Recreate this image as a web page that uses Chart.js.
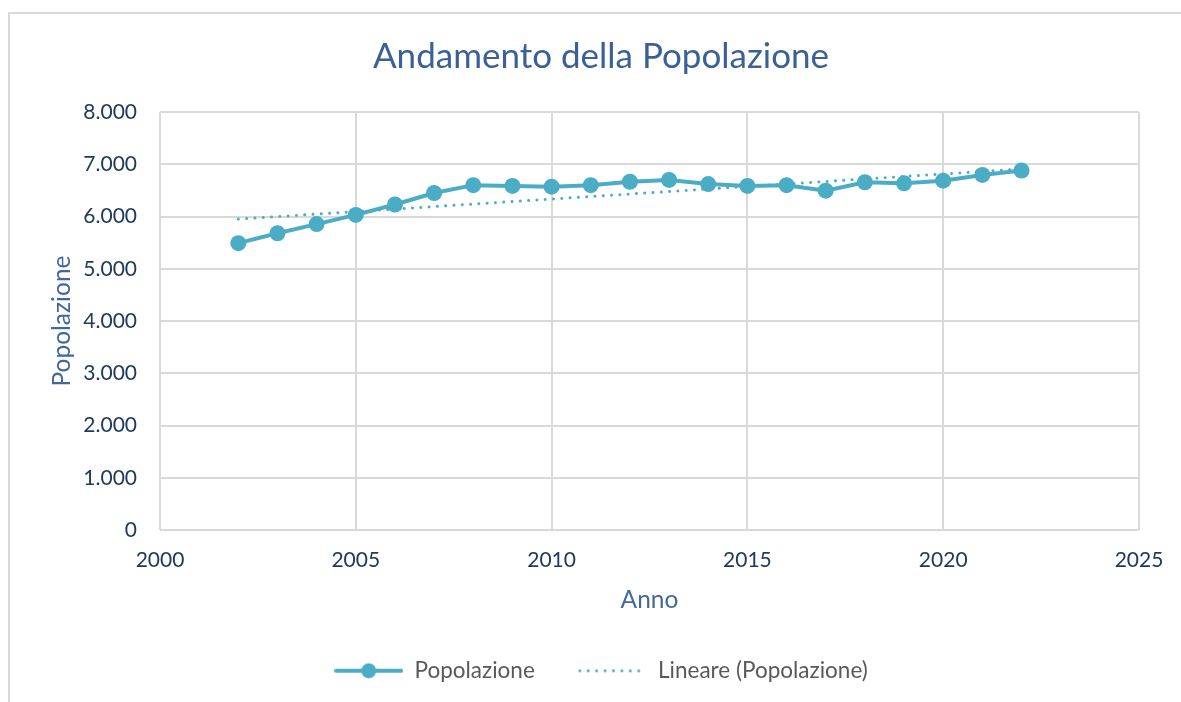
<!DOCTYPE html>
<html>
<head>
<meta charset="utf-8">
<script src="https://cdn.jsdelivr.net/npm/chart.js@4.4.1/dist/chart.umd.min.js"></script>
<style>
  body { margin: 0; background: #fff; overflow: hidden; width: 1181px; height: 702px; }
  #cornice { position: absolute; left: 8px; top: 12px; width: 1300px; height: 800px; border: 2px solid #d9d9d9; }
  #box { position: absolute; left: 8px; top: 13px; width: 1186px; height: 700px; }
</style>
</head>
<body>
<div id="cornice"></div>
<div id="box"><canvas id="graficoPopolazione"></canvas></div>
<script>
const anni = [2002, 2003, 2004, 2005, 2006, 2007, 2008, 2009, 2010, 2011, 2012,
              2013, 2014, 2015, 2016, 2017, 2018, 2019, 2020, 2021, 2022];
const popolazione = [5490, 5680, 5855, 6030, 6230, 6450, 6600, 6585, 6570, 6600, 6665,
                     6700, 6620, 6585, 6600, 6495, 6655, 6635, 6685, 6795, 6880];
// estremi della linea di tendenza
const anniTendenza = [2002, 2022];
const valoriTendenza = [5950, 6910];

const colore = '#4bacc6';
const fontBase = 'Lato';

function formatoMigliaia(v) {
  return String(v).replace(/\B(?=(\d{3})+(?!\d))/g, '.');
}

// simboli della legenda
function simbolo(tipo) {
  const c = document.createElement('canvas');
  c.width = 69; c.height = 18;
  const g = c.getContext('2d');
  g.strokeStyle = colore;
  g.fillStyle = colore;
  g.lineCap = 'round';
  if (tipo === 'linea') {
    g.lineWidth = 4;
    g.beginPath(); g.moveTo(2, 9); g.lineTo(67, 9); g.stroke();
    g.beginPath(); g.arc(34.5, 9, 7.5, 0, Math.PI * 2); g.fill();
  } else {
    g.lineWidth = 3;
    g.setLineDash([0.01, 8.4]);
    g.beginPath(); g.moveTo(2, 9); g.lineTo(69, 9); g.stroke();
  }
  return c;
}

const ctx = document.getElementById('graficoPopolazione').getContext('2d');

new Chart(ctx, {
  type: 'line',
  data: {
    datasets: [
      {
        label: 'Popolazione',
        data: anni.map((a, i) => ({ x: a, y: popolazione[i] })),
        borderColor: colore,
        backgroundColor: colore,
        borderWidth: 4,
        pointRadius: 8,
        pointHoverRadius: 8,
        pointBackgroundColor: colore,
        pointBorderWidth: 0,
        tension: 0,
        order: 1
      },
      {
        label: 'Lineare (Popolazione)',
        data: anniTendenza.map((a, i) => ({ x: a, y: valoriTendenza[i] })),
        borderColor: colore,
        borderWidth: 3,
        borderDash: [0.01, 8.3],
        borderCapStyle: 'round',
        pointRadius: 0,
        order: 0
      }
    ]
  },
  options: {
    responsive: true,
    maintainAspectRatio: false,
    animation: false,
    layout: { padding: { left: 55, right: 55, top: 0, bottom: 21 } },
    plugins: {
      title: {
        display: true,
        text: 'Andamento della Popolazione',
        color: '#3a6197',
        font: { family: fontBase, size: 35, weight: 'normal' },
        padding: { top: 23, bottom: 34 }
      },
      legend: {
        position: 'bottom',
        labels: {
          usePointStyle: true,
          pointStyleWidth: 69,
          padding: 43,
          color: '#595959',
          font: { family: fontBase, size: 22.5 },
          generateLabels: () => [
            { text: 'Popolazione', pointStyle: simbolo('linea'), datasetIndex: 0, fontColor: '#595959', lineWidth: 0, strokeStyle: 'transparent', fillStyle: colore },
            { text: 'Lineare (Popolazione)', pointStyle: simbolo('punti'), datasetIndex: 1, fontColor: '#595959', lineWidth: 0, strokeStyle: 'transparent', fillStyle: colore }
          ]
        }
      },
      tooltip: { enabled: false }
    },
    scales: {
      x: {
        type: 'linear',
        min: 2000,
        max: 2025,
        afterFit: (scale) => { scale.height = 86.5; },
        ticks: {
          stepSize: 5,
          padding: 18,
          color: '#203a5c',
          font: { family: fontBase, size: 21 },
          callback: (v) => String(v)
        },
        grid: { color: '#d9d9d9', lineWidth: 2, drawTicks: false },
        border: { display: false },
        title: {
          display: true,
          text: 'Anno',
          color: '#41689e',
          font: { family: fontBase, size: 24.5 },
          padding: { top: 0, bottom: 2 }
        }
      },
      y: {
        min: 0,
        max: 8000,
        afterFit: (scale) => { scale.width = 97; },
        ticks: {
          stepSize: 1000,
          padding: 23,
          color: '#203a5c',
          font: { family: fontBase, size: 21 },
          callback: (v) => formatoMigliaia(v)
        },
        grid: { color: '#d9d9d9', lineWidth: 2, drawTicks: false },
        border: { display: false },
        title: {
          display: true,
          text: 'Popolazione',
          color: '#41689e',
          font: { family: fontBase, size: 24.5 },
          padding: { top: -15.7, bottom: 0 }
        }
      }
    }
  }
});
</script>
</body>
</html>
